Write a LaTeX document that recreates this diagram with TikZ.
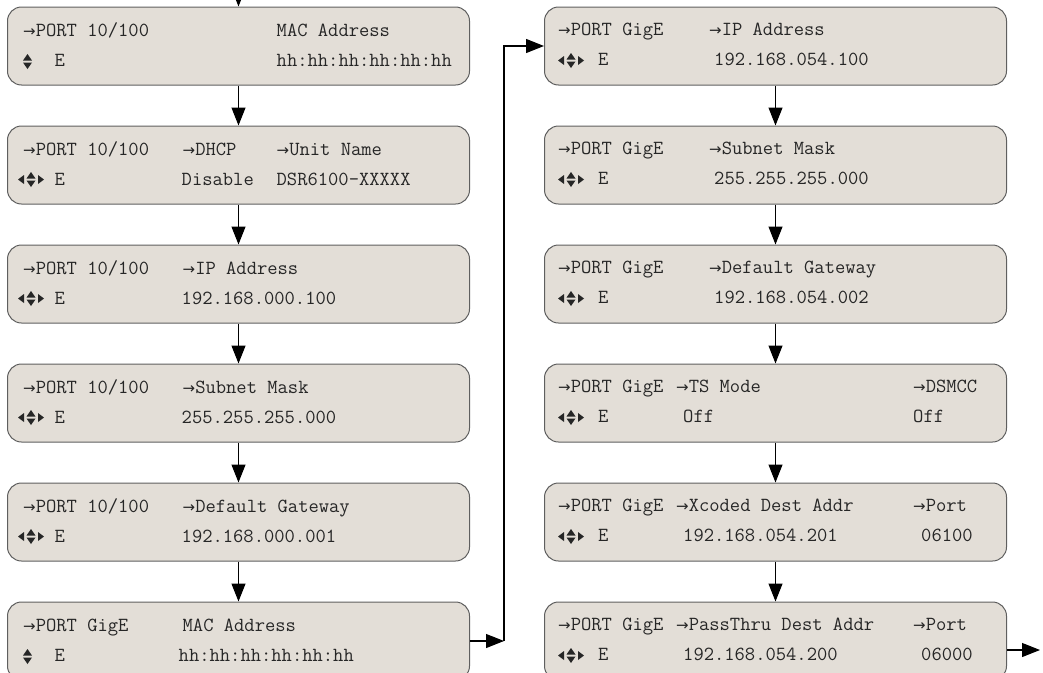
\documentclass[tikz,border=0pt]{standalone}
\usepackage{fontspec}
\usetikzlibrary{positioning,arrows.meta,calc}
\newfontfamily\arrowfont{DejaVu Sans}
\definecolor{lcdfill}{RGB}{227,222,215}
\definecolor{lcdedge}{RGB}{95,95,95}
\newcommand{\selarrow}{{\arrowfont\fontsize{15}{15}\selectfont →}}
\newcommand{\fld}[2]{\makebox[#1pt][l]{#2}}

\begin{document}
\begin{tikzpicture}[x=1pt, y=-1pt,
  screen/.style={draw=lcdedge, fill=lcdfill, line width=1pt, rounded corners=14pt, minimum width=462pt, minimum height=78pt, inner sep=0pt},
  row/.style={anchor=base west, inner sep=0pt, text=black!85, font=\ttfamily\fontsize{20}{24}\selectfont},
  flow/.style={-{Triangle[length=18pt, width=14pt]}, line width=1.1pt},
  updown/.pic={\fill[black!85] (-4.5,-1) -- (4.5,-1) -- (0,-7.5) -- cycle;
               \fill[black!85] (-4.5,1) -- (4.5,1) -- (0,7.5) -- cycle;},
  quad/.pic={\pic {updown};
             \fill[black!85] (-7,-4.5) -- (-7,4.5) -- (-13,0) -- cycle;
             \fill[black!85] (7,-4.5) -- (7,4.5) -- (13,0) -- cycle;}
]
\useasboundingbox (0,0) rectangle (1043,672);
\clip (0,0) rectangle (1043,672);
% ---------- Left column: PORT 10/100 ----------
\node[screen] (l1) at (238.5,46) {};
\node[screen, below=40pt of l1] (l2) {};
\node[screen, below=40pt of l2] (l3) {};
\node[screen, below=40pt of l3] (l4) {};
\node[screen, below=40pt of l4] (l5) {};
\node[screen, below=40pt of l5] (l6) {};
\node[row] (l1a) at ($(l1.north west)+(16,30)$) {\fld{253.5}{\selarrow PORT 10/100}MAC Address};
\node[row] (l1b) at ($(l1.north west)+(47.5,60)$) {\fld{222}{E}hh:hh:hh:hh:hh:hh};
\pic at ($(l1.north west)+(20.5,55)$) {updown};
\node[row] (l2a) at ($(l2.north west)+(16,30)$) {\fld{159.5}{\selarrow PORT 10/100}\fld{94}{\selarrow DHCP}\selarrow Unit Name};
\node[row] (l2b) at ($(l2.north west)+(47.5,60)$) {\fld{127}{E}\fld{95}{Disable}DSR6100-XXXXX};
\pic at ($(l2.north west)+(24,54)$) {quad};
\node[row] (l3a) at ($(l3.north west)+(16,30)$) {\fld{159.5}{\selarrow PORT 10/100}\selarrow IP Address};
\node[row] (l3b) at ($(l3.north west)+(47.5,60)$) {\fld{127}{E}192.168.000.100};
\pic at ($(l3.north west)+(24,54)$) {quad};
\node[row] (l4a) at ($(l4.north west)+(16,30)$) {\fld{159.5}{\selarrow PORT 10/100}\selarrow Subnet Mask};
\node[row] (l4b) at ($(l4.north west)+(47.5,60)$) {\fld{127}{E}255.255.255.000};
\pic at ($(l4.north west)+(24,54)$) {quad};
\node[row] (l5a) at ($(l5.north west)+(16,30)$) {\fld{159.5}{\selarrow PORT 10/100}\selarrow Default Gateway};
\node[row] (l5b) at ($(l5.north west)+(47.5,60)$) {\fld{127}{E}192.168.000.001};
\pic at ($(l5.north west)+(24,54)$) {quad};
\node[row] (l6a) at ($(l6.north west)+(16,30)$) {\fld{159.5}{\selarrow PORT GigE}MAC Address};
\node[row] (l6b) at ($(l6.north west)+(47.5,60)$) {\fld{124}{E}hh:hh:hh:hh:hh:hh};
\pic at ($(l6.north west)+(20.5,55)$) {updown};
% ---------- Right column: PORT GigE ----------
\node[screen, right=74pt of l1] (r1) {};
\node[screen, below=40pt of r1] (r2) {};
\node[screen, below=40pt of r2] (r3) {};
\node[screen, below=40pt of r3] (r4) {};
\node[screen, below=40pt of r4] (r5) {};
\node[screen, below=40pt of r5] (r6) {};
\node[row] (r1a) at ($(r1.north west)+(14,29)$) {\fld{151}{\selarrow PORT GigE}\selarrow IP Address};
\node[row] (r1b) at ($(r1.north west)+(54,59)$) {\fld{116}{E}192.168.054.100};
\pic at ($(r1.north west)+(27,54)$) {quad};
\node[row] (r2a) at ($(r2.north west)+(14,29)$) {\fld{151}{\selarrow PORT GigE}\selarrow Subnet Mask};
\node[row] (r2b) at ($(r2.north west)+(54,59)$) {\fld{116}{E}255.255.255.000};
\pic at ($(r2.north west)+(27,54)$) {quad};
\node[row] (r3a) at ($(r3.north west)+(14,29)$) {\fld{151}{\selarrow PORT GigE}\selarrow Default Gateway};
\node[row] (r3b) at ($(r3.north west)+(54,59)$) {\fld{116}{E}192.168.054.002};
\pic at ($(r3.north west)+(27,54)$) {quad};
\node[row] (r4a) at ($(r4.north west)+(14,29)$) {\fld{118}{\selarrow PORT GigE}\fld{237}{\selarrow TS Mode}\selarrow DSMCC};
\node[row] (r4b) at ($(r4.north west)+(54,59)$) {\fld{85}{E}\fld{230}{Off}Off};
\pic at ($(r4.north west)+(27,54)$) {quad};
\node[row] (r5a) at ($(r5.north west)+(14,29)$) {\fld{118}{\selarrow PORT GigE}\fld{237}{\selarrow Xcoded Dest Addr}\selarrow Port};
\node[row] (r5b) at ($(r5.north west)+(54,59)$) {\fld{85}{E}\fld{238}{192.168.054.201}06100};
\pic at ($(r5.north west)+(27,54)$) {quad};
\node[row] (r6a) at ($(r6.north west)+(14,29)$) {\fld{118}{\selarrow PORT GigE}\fld{237}{\selarrow PassThru Dest Addr}\selarrow Port};
\node[row] (r6b) at ($(r6.north west)+(54,59)$) {\fld{85}{E}\fld{238}{192.168.054.200}06000};
\pic at ($(r6.north west)+(27,54)$) {quad};
% ---------- flow ----------
\coordinate (entry) at (238.5,-30);
\draw[flow] (entry) -- (l1);
\draw[flow] (l1) -- (l2);
\draw[flow] (l2) -- (l3);
\draw[flow] (l3) -- (l4);
\draw[flow] (l4) -- (l5);
\draw[flow] (l5) -- (l6);
\coordinate (jog) at ($(l6.east)+(34,0)$);
\draw[flow] (l6.east) -- (jog);
\draw[flow] (jog) |- (r1.west);
\draw[flow] (r1) -- (r2);
\draw[flow] (r2) -- (r3);
\draw[flow] (r3) -- (r4);
\draw[flow] (r4) -- (r5);
\draw[flow] (r5) -- (r6);
\coordinate (exit) at (1040,650);
\draw[flow] (r6.east |- exit) -- (exit);
\end{tikzpicture}
\end{document}
